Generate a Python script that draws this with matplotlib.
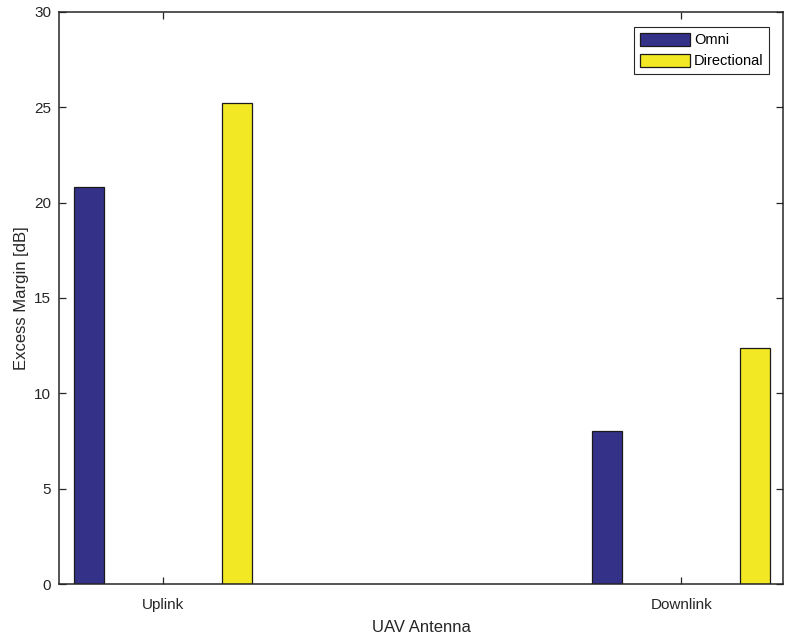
import numpy as np
import matplotlib.pyplot as plt

plt.rcParams['font.family'] = ['Liberation Sans', 'DejaVu Sans']

categories = ['Uplink', 'Downlink']
omni = [20.8, 8.0]
directional = [25.2, 12.4]

fig = plt.figure(figsize=(7.88, 6.4), dpi=100)
ax = fig.add_axes([0.0755, 0.0875, 0.918, 0.894])

x = np.arange(1, len(categories) + 1)
w = 0.058
off = 0.143
ax.bar(x - off, omni, w, color='#343189', edgecolor='#1a1a1a', linewidth=0.9, label='Omni')
ax.bar(x + off, directional, w, color='#f2e823', edgecolor='#1a1a1a', linewidth=0.9, label='Directional')

ax.set_xlim(0.8, 2.196)
ax.set_ylim(0, 30)
ax.set_xticks(x)
ax.set_xticklabels(categories)
ax.set_yticks(np.arange(0, 31, 5))
ax.tick_params(direction='in', length=5, width=0.9, colors='#262626', labelsize=11,
               top=True, right=True)
ax.tick_params(axis='x', pad=10)
ax.tick_params(axis='y', pad=6)
for s in ax.spines.values():
    s.set_color('#262626')
    s.set_linewidth(1.1)

ax.set_xlabel('UAV Antenna', fontsize=12, color='#262626', labelpad=6)
ax.set_ylabel('Excess Margin [dB]', fontsize=12, color='#262626', labelpad=4)

leg = ax.legend(loc='upper right', bbox_to_anchor=(0.9815, 0.9735), fontsize=10.5,
                fancybox=False, framealpha=1, edgecolor='#262626',
                handlelength=3.4, handleheight=1.0, handletextpad=0.3,
                borderpad=0.4, labelspacing=0.45, borderaxespad=0)
leg.get_frame().set_linewidth(0.8)

fig.savefig('out.png', dpi=100)
